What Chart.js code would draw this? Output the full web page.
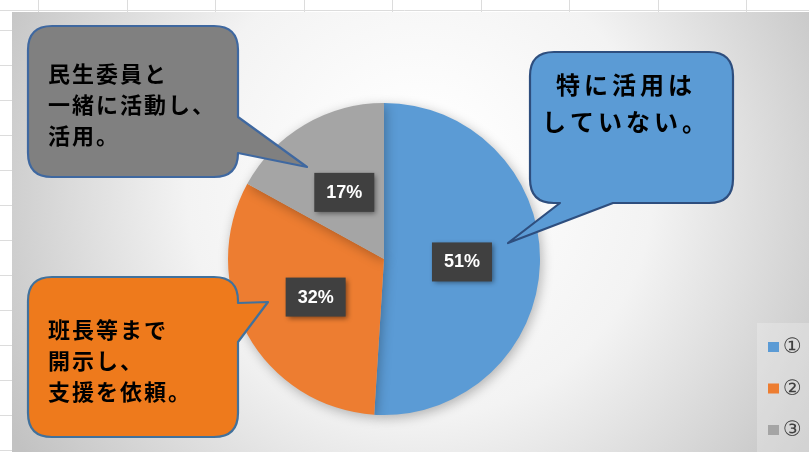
<!DOCTYPE html>
<html>
<head>
<meta charset="utf-8">
<script src="https://cdn.jsdelivr.net/npm/chart.js@4/dist/chart.umd.min.js"></script>
<style>
  html, body { margin: 0; padding: 0; background: #fff; }
  #wrap { width: 809px; height: 452px; }
</style>
</head>
<body>
<div id="wrap"><canvas id="pieChart" width="809" height="452"></canvas></div>
<script>
const categories = ["①", "②", "③"];
const shares = [51, 32, 17];
const sliceColors = ["#5b9bd5", "#ed7d31", "#a5a5a5"];

const callouts = [
  {
    lines: ["民生委員と", "一緒に活動し、", "活用。"],
    fill: "#808080", stroke: "#3f68a0",
    box: [28, 26, 238, 177], tail: [[238, 117], [307, 167], [238, 153]],
    textX: 48, textY: 74, lineGap: 31, size: 22, spacing: 2, align: "left"
  },
  {
    lines: ["特に活用は", "していない。"],
    fill: "#5b9bd5", stroke: "#2e4e7e",
    box: [530, 52, 733, 203], tail: [[613, 203], [508, 243], [560, 203]],
    textX: 626, textY: 85, lineGap: 37, size: 24, spacing: 4, align: "center"
  },
  {
    lines: ["班長等まで", "開示し、", "支援を依頼。"],
    fill: "#ee7a1c", stroke: "#41719c",
    box: [28, 277, 238, 437], tail: [[238, 303], [268, 302], [238, 342]],
    textX: 48, textY: 330, lineGap: 31, size: 22, spacing: 2, align: "left"
  }
];

function calloutPath(ctx, c) {
  const [x1, y1, x2, y2] = c.box;
  const r = 24;
  const t = c.tail;
  ctx.beginPath();
  ctx.moveTo(x1 + r, y1);
  ctx.lineTo(x2 - r, y1);
  ctx.quadraticCurveTo(x2, y1, x2, y1 + r);
  if (t[0][0] === x2) {
    ctx.lineTo(x2, t[0][1]);
    ctx.lineTo(t[1][0], t[1][1]);
    ctx.lineTo(x2, t[2][1]);
  }
  ctx.lineTo(x2, y2 - r);
  ctx.quadraticCurveTo(x2, y2, x2 - r, y2);
  if (t[0][1] === y2) {
    ctx.lineTo(t[0][0], y2);
    ctx.lineTo(t[1][0], t[1][1]);
    ctx.lineTo(t[2][0], y2);
  }
  ctx.lineTo(x1 + r, y2);
  ctx.quadraticCurveTo(x1, y2, x1, y2 - r);
  ctx.lineTo(x1, y1 + r);
  ctx.quadraticCurveTo(x1, y1, x1 + r, y1);
  ctx.closePath();
}

const backdrop = {
  id: "backdrop",
  beforeDraw(chart) {
    const ctx = chart.ctx;
    ctx.save();
    ctx.fillStyle = "#ffffff";
    ctx.fillRect(0, 0, chart.width, chart.height);
    // spreadsheet grid peeking out
    ctx.strokeStyle = "#dcdcdc";
    ctx.lineWidth = 1;
    ctx.beginPath();
    ctx.moveTo(0, 10.5); ctx.lineTo(chart.width, 10.5);
    for (let x = 38; x < chart.width; x += 88.5) {
      ctx.moveTo(Math.round(x) + 0.5, 0); ctx.lineTo(Math.round(x) + 0.5, 12);
    }
    for (let y = 30; y < chart.height; y += 35) {
      ctx.moveTo(0, Math.round(y) + 0.5); ctx.lineTo(12, Math.round(y) + 0.5);
    }
    ctx.stroke();
    // chart area gradient
    const g = ctx.createRadialGradient(420, 170, 40, 420, 200, 470);
    g.addColorStop(0, "#ffffff");
    g.addColorStop(0.45, "#f3f3f3");
    g.addColorStop(1, "#c2c2c2");
    ctx.fillStyle = g;
    ctx.fillRect(12, 12, chart.width - 12, chart.height - 12);
    // legend panel
    ctx.fillStyle = "rgba(245,245,245,0.3)";
    ctx.fillRect(757, 323, 52, 129);
    ctx.restore();
  },
  beforeDatasetsDraw(chart) {
    const ctx = chart.ctx;
    ctx.save();
    ctx.shadowColor = "rgba(0,0,0,0.28)";
    ctx.shadowBlur = 12;
    ctx.shadowOffsetX = 2;
    ctx.shadowOffsetY = 3;
  },
  afterDatasetsDraw(chart) {
    const ctx = chart.ctx;
    ctx.restore();
    const meta = chart.getDatasetMeta(0);
    const total = shares.reduce((a, b) => a + b, 0);
    ctx.save();
    meta.data.forEach((arc, i) => {
      const p = arc.getProps(["x", "y", "startAngle", "endAngle", "outerRadius"], true);
      const mid = (p.startAngle + p.endAngle) / 2;
      const cx = p.x + Math.cos(mid) * p.outerRadius * 0.5;
      const cy = p.y + Math.sin(mid) * p.outerRadius * 0.5;
      ctx.shadowColor = "rgba(0,0,0,0.45)";
      ctx.shadowBlur = 5;
      ctx.shadowOffsetX = 2;
      ctx.shadowOffsetY = 2;
      ctx.fillStyle = "#404040";
      ctx.fillRect(cx - 30, cy - 19, 60, 39);
      ctx.shadowColor = "transparent";
      ctx.fillStyle = "#ffffff";
      ctx.font = "bold 18px 'Liberation Sans', sans-serif";
      ctx.textAlign = "center";
      ctx.textBaseline = "middle";
      ctx.fillText(Math.round(shares[i] / total * 100) + "%", cx, cy + 1);
    });
    ctx.restore();
  },
  afterDraw(chart) {
    const ctx = chart.ctx;
    ctx.save();
    callouts.forEach((c) => {
      calloutPath(ctx, c);
      ctx.fillStyle = c.fill;
      ctx.fill();
      ctx.lineWidth = 2.2;
      ctx.strokeStyle = c.stroke;
      ctx.lineJoin = "round";
      ctx.stroke();
      ctx.fillStyle = "#000000";
      ctx.font = "bold " + c.size + "px 'Noto Sans CJK JP', sans-serif";
      ctx.letterSpacing = c.spacing + "px";
      ctx.textAlign = c.align;
      ctx.textBaseline = "middle";
      c.lines.forEach((line, k) => {
        ctx.fillText(line, c.textX, c.textY + k * c.lineGap);
      });
    });
    ctx.letterSpacing = "0px";
    // legend
    ctx.textAlign = "left";
    ctx.textBaseline = "middle";
    ctx.font = "21px 'DejaVu Sans', sans-serif";
    categories.forEach((label, i) => {
      const y = 347 + i * 41.5;
      ctx.fillStyle = sliceColors[i];
      ctx.fillRect(768, y - 5, 11, 10);
      ctx.fillStyle = "#404040";
      ctx.fillText(label, 783, y + 1);
    });
    ctx.restore();
  }
};

new Chart(document.getElementById("pieChart"), {
  type: "pie",
  data: {
    labels: categories,
    datasets: [{
      data: shares,
      backgroundColor: sliceColors,
      borderWidth: 0
    }]
  },
  options: {
    responsive: false,
    animation: false,
    layout: { padding: { left: 228, right: 269, top: 103, bottom: 37 } },
    plugins: {
      legend: { display: false },
      tooltip: { enabled: false }
    }
  },
  plugins: [backdrop]
});
</script>
</body>
</html>
